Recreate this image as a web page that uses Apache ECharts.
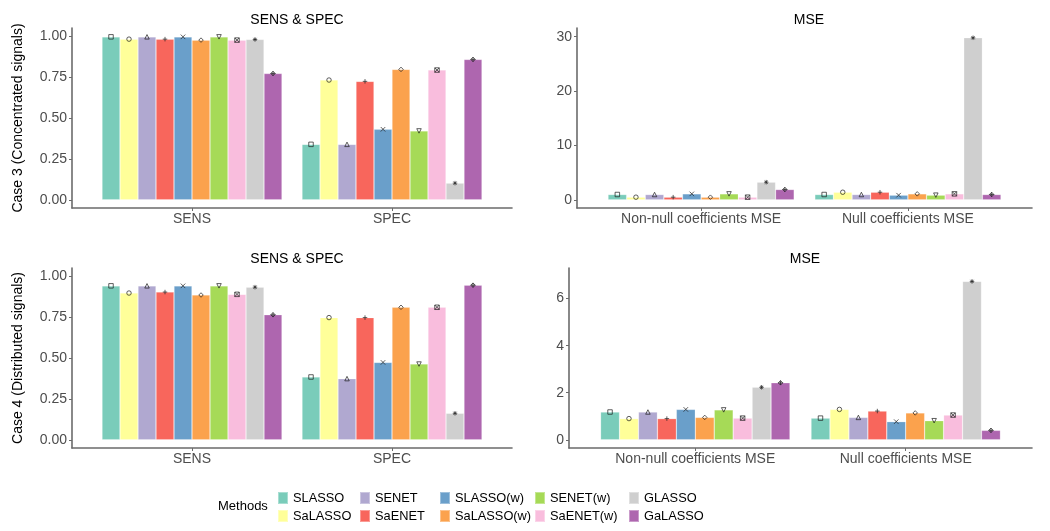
<!DOCTYPE html>
<html><head><meta charset="utf-8">
<script src="https://cdn.jsdelivr.net/npm/echarts@6/dist/echarts.min.js"></script>
<style>html,body{margin:0;padding:0;background:#fff}#c{width:1050px;height:531px}</style>
</head><body><div id="c"></div>
<script>
// ---------- data ----------
const methods = ['SLASSO','SaLASSO','SENET','SaENET','SLASSO(w)','SaLASSO(w)','SENET(w)','SaENET(w)','GLASSO','GaLASSO'];
const sensSpecCats = ['SENS','SPEC'];
const mseCats = ['Non-null coefficients MSE','Null coefficients MSE'];

const c3Sens    = [0.996,0.982,0.996,0.982,0.996,0.976,0.996,0.976,0.980,0.772];
const c3Spec    = [0.339,0.732,0.339,0.724,0.431,0.797,0.421,0.793,0.102,0.858];
const c3NonNull = [0.98,0.49,0.98,0.49,1.10,0.49,1.10,0.49,3.25,1.90];
const c3Null    = [0.98,1.40,0.98,1.40,0.86,1.10,0.86,1.10,29.8,0.98];

const c4Sens    = [0.941,0.897,0.941,0.903,0.941,0.885,0.941,0.889,0.933,0.764];
const c4Spec    = [0.384,0.747,0.374,0.747,0.473,0.810,0.463,0.810,0.162,0.945];
const c4NonNull = [1.18,0.90,1.18,0.90,1.29,0.95,1.27,0.92,2.23,2.42];
const c4Null    = [0.92,1.29,0.95,1.22,0.77,1.14,0.81,1.05,6.73,0.40];

const sensSpecTicks = [0,0.25,0.5,0.75,1];
const c3MseTicks = [0,10,20,30];
const c4MseTicks = [0,2,4,6];
const sensSpecLimits = [-0.05,1.05];
const c3MseLimits = [-1.5,31.6];
const c4MseLimits = [-0.35,7.3];

// ---------- styles ----------
const colors = ['#7ACCBA','#FFFF99','#B0A8D0','#F8665C','#6A9FCA','#FBA24D','#A6DA57','#F9BDDD','#CFCFCF','#AE66AF'];
const symbols = [
  {s:'rect'},
  {s:'circle'},
  {s:'triangle'},
  {s:'path://M0,5L10,5M5,0L5,10'},
  {s:'path://M0,0L10,10M10,0L0,10'},
  {s:'diamond'},
  {s:'triangle', r:180},
  {s:'path://M0,0L10,0L10,10L0,10ZM0,0L10,10M10,0L0,10'},
  {s:'path://M0,5L10,5M5,0L5,10M1.5,1.5L8.5,8.5M8.5,1.5L1.5,8.5'},
  {s:'path://M5,0L10,5L5,10L0,5ZM5,0L5,10M0,5L10,5'}
];
const FONT = 'Liberation Sans, Arial, sans-serif';
const AX = '#6b6b6b';

const panels = [
  {title:'SENS & SPEC', cx:292, ty:8,   grid:{left:72, width:440, top:28, height:180}, cats:sensSpecCats, vals:[c3Sens,c3Spec], ticks:sensSpecTicks, lim:sensSpecLimits, fmt:v=>v.toFixed(2)},
  {title:'MSE',         cx:804, ty:8,   grid:{left:577, width:455, top:28, height:180}, cats:mseCats, vals:[c3NonNull,c3Null], ticks:c3MseTicks, lim:c3MseLimits, fmt:v=>String(v)},
  {title:'SENS & SPEC', cx:292, ty:247, grid:{left:72, width:440, top:268, height:180}, cats:sensSpecCats, vals:[c4Sens,c4Spec], ticks:sensSpecTicks, lim:sensSpecLimits, fmt:v=>v.toFixed(2)},
  {title:'MSE',         cx:800, ty:247, grid:{left:569, width:463, top:268, height:180}, cats:mseCats, vals:[c4NonNull,c4Null], ticks:c4MseTicks, lim:c4MseLimits, fmt:v=>String(v)}
];

const grids=[], xAxes=[], yAxes=[], titles=[], barSeries=[], ptSeries=[];
panels.forEach((p,k)=>{
  grids.push(Object.assign({containLabel:false}, p.grid));
  titles.push({text:p.title, left:p.cx, top:p.ty, textAlign:'center',
    textStyle:{fontSize:14, fontWeight:'normal', color:'#000', fontFamily:FONT}});
  xAxes.push({type:'value', gridIndex:k, min:0.4, max:2.6, splitLine:{show:false},
    axisLine:{show:true, onZero:false, lineStyle:{color:AX, width:1.6}},
    axisTick:{show:true, customValues:[1,2], length:3, lineStyle:{color:AX, width:1}},
    axisLabel:{customValues:[1,2], formatter:v=>p.cats[Math.round(v)-1], margin:4,
      fontSize:14, color:'#4D4D4D', fontFamily:FONT}});
  yAxes.push({type:'value', gridIndex:k, min:p.lim[0], max:p.lim[1], splitLine:{show:false},
    axisLine:{show:true, onZero:false, lineStyle:{color:AX, width:1.6}},
    axisTick:{show:true, customValues:p.ticks, length:3, lineStyle:{color:AX, width:1}},
    axisLabel:{customValues:p.ticks, formatter:p.fmt, margin:5,
      fontSize:14, color:'#4D4D4D', fontFamily:FONT}});
  const bw = p.grid.width/2.2*0.09;
  methods.forEach((m,i)=>{
    barSeries.push({type:'bar', name:m, xAxisIndex:k, yAxisIndex:k, barWidth:bw, barGap:'0%',
      data:[[1,p.vals[0][i]],[2,p.vals[1][i]]],
      itemStyle:{color:colors[i], borderColor:'rgba(255,255,255,0.35)', borderWidth:0.6},
      silent:true});
    const off = (i-4.5)*0.09;
    ptSeries.push({type:'scatter', name:m+' pt', xAxisIndex:k, yAxisIndex:k,
      symbol:symbols[i].s, symbolRotate:symbols[i].r||0, symbolSize:4.5,
      data:[[1+off,p.vals[0][i]],[2+off,p.vals[1][i]]],
      itemStyle:{color:'rgba(0,0,0,0)', borderColor:'#222', borderWidth:0.9},
      z:5, silent:true});
  });
});

const legendCols = [277,359,439,534,628];
const legends = legendCols.map((x,c)=>({
  orient:'vertical', left:x, top:491, padding:0, itemGap:4, itemWidth:10, itemHeight:12,
  icon:'rect', selectedMode:false, data:[methods[2*c], methods[2*c+1]],
  textStyle:{fontSize:12.8, color:'#000', fontFamily:FONT}
}));

const chart = echarts.init(document.getElementById('c'));
chart.setOption({
  animation:false,
  backgroundColor:'#fff',
  title:titles,
  grid:grids, xAxis:xAxes, yAxis:yAxes,
  legend:legends,
  series:barSeries.concat(ptSeries),
  graphic:[
    {type:'text', x:18, y:118, rotation:Math.PI/2,
      style:{text:'Case 3 (Concentrated signals)', fontSize:14, fontFamily:FONT, fill:'#000', textAlign:'center', textVerticalAlign:'middle'}},
    {type:'text', x:18, y:358, rotation:Math.PI/2,
      style:{text:'Case 4 (Distributed signals)', fontSize:14, fontFamily:FONT, fill:'#000', textAlign:'center', textVerticalAlign:'middle'}},
    {type:'text', x:218, y:506,
      style:{text:'Methods', fontSize:13, fontFamily:FONT, fill:'#000', textAlign:'left', textVerticalAlign:'middle'}}
  ]
});
</script></body></html>
